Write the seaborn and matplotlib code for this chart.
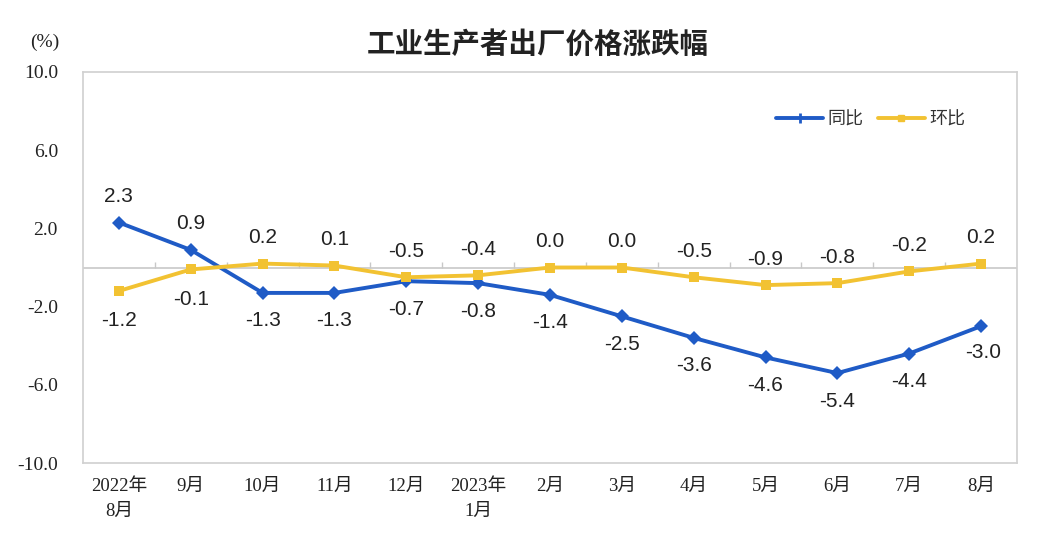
import matplotlib
matplotlib.use("Agg")
import matplotlib.pyplot as plt
import seaborn as sns
import pandas as pd
import numpy as np
from matplotlib.lines import Line2D

categories = ["2022年\n8月", "9月", "10月", "11月", "12月", "2023年\n1月", "2月", "3月", "4月", "5月", "6月", "7月", "8月"]
yoy = [2.3, 0.9, -1.3, -1.3, -0.7, -0.8, -1.4, -2.5, -3.6, -4.6, -5.4, -4.4, -3.0]
mom = [-1.2, -0.1, 0.2, 0.1, -0.5, -0.4, 0.0, 0.0, -0.5, -0.9, -0.8, -0.2, 0.2]
yticks = [10.0, 6.0, 2.0, -2.0, -6.0, -10.0]
series_names = ["同比", "环比"]

sns.set_theme(style="white")
plt.rcParams['font.family'] = ['Noto Sans CJK SC', 'DejaVu Sans']

BLUE = "#1F5BC6"
YELLOW = "#F2C232"
serif = ['Liberation Serif', 'Noto Sans CJK SC']
sans = ['Liberation Sans', 'DejaVu Sans']

df = pd.DataFrame({
    "x": list(range(len(categories))) * 2,
    "value": yoy + mom,
    "series": [series_names[0]] * len(yoy) + [series_names[1]] * len(mom),
})

fig = plt.figure(figsize=(10.46, 5.38), dpi=100)
ax = fig.add_axes([83/1046, 1 - 463/538, (1017-83)/1046, (463-72)/538])

ax.axhline(0, color="#C8C8C8", lw=1.2, zorder=1)
# small category-boundary ticks on the zero line
ax.vlines(np.arange(0.5, len(categories) - 1), 0, 0.3, color="#C8C8C8", lw=1.0, zorder=1)

sns.lineplot(data=df, x="x", y="value", hue="series", style="series",
             markers={"同比": "D", "环比": "s"}, dashes=False,
             palette={"同比": BLUE, "环比": YELLOW}, linewidth=2.8,
             markersize=7, markeredgewidth=0, ax=ax, zorder=3, legend=False)

handles = [Line2D([], [], color=BLUE, lw=2.8, marker="|", markersize=7, markeredgewidth=2),
           Line2D([], [], color=YELLOW, lw=2.8, marker="s", markersize=5)]
leg = ax.legend(handles, series_names, loc="center left", bbox_to_anchor=(0.742, 0.878),
                ncol=2, frameon=False, fontsize=13, handlelength=2.6, handletextpad=0.25,
                columnspacing=0.8, borderaxespad=0, borderpad=0)
for t in leg.get_texts():
    t.set_color("#333333")

for i, v in enumerate(yoy):
    if i < 2:
        off = (0, 26)
    elif i == len(yoy) - 1:
        off = (2, -26)
    else:
        off = (0, -28)
    ax.annotate(f"{v:.1f}", (i, v), textcoords="offset pixels", xytext=off,
                ha="center", va="center", fontsize=15, color="#222222", family=sans)
for i, v in enumerate(mom):
    off = (0, -30) if i < 2 else (0, 26)
    ax.annotate(f"{v:.1f}", (i, v), textcoords="offset pixels", xytext=off,
                ha="center", va="center", fontsize=15, color="#222222", family=sans)

ax.set_xlim(-0.5, len(categories) - 0.5)
ax.set_ylim(-10, 10)
ax.set_yticks(yticks)
ax.set_yticklabels([f"{t:.1f}" for t in yticks], fontsize=14, family=serif)
ax.set_xticks(range(len(categories)))
ax.set_xticklabels(categories, fontsize=13.5, linespacing=1.6, family=serif, va="top")
ax.tick_params(axis="y", length=0, pad=18, colors="#222222")
ax.tick_params(axis="x", length=0, pad=11, colors="#222222")
ax.set_xlabel("")
ax.set_ylabel("")
for s in ax.spines.values():
    s.set_color("#D0D0D0")
    s.set_linewidth(1.2)

fig.text(45/1046, 1 - 42/538, "(%)", ha="center", va="center", fontsize=14,
         family=serif, color="#222222")
fig.text(538/1046, 1 - 45/538, "工业生产者出厂价格涨跌幅", ha="center", va="center",
         fontsize=20.5, fontweight="bold", color="#222222")

fig.savefig("out.png", dpi=100)
